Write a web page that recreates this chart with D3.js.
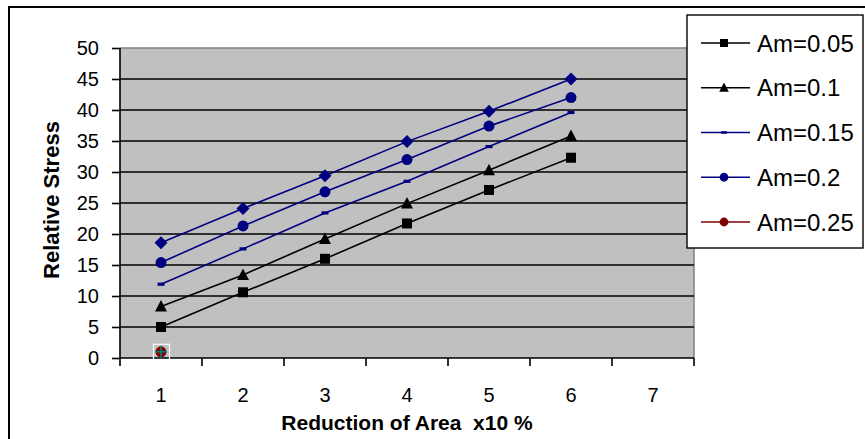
<!DOCTYPE html>
<html><head><meta charset="utf-8">
<script src="https://cdn.jsdelivr.net/npm/d3@7"></script>
<style>body{margin:0;background:#fff}svg{display:block}text{font-family:"Liberation Sans",Arial,sans-serif;fill:#000}</style>
</head><body><svg id="c" width="865" height="439"></svg>
<script>
const categories = [1, 2, 3, 4, 5, 6, 7];
const yTicks = [0, 5, 10, 15, 20, 25, 30, 35, 40, 45, 50];
const am005 = [5.0, 10.6, 16.0, 21.7, 27.1, 32.3];
const am01  = [8.3, 13.4, 19.2, 24.9, 30.3, 35.8];
const am015 = [11.9, 17.6, 23.4, 28.5, 34.1, 39.6];
const am02  = [15.4, 21.3, 26.8, 32.0, 37.4, 42.0];
const am03  = [18.6, 24.1, 29.4, 34.9, 39.8, 45.0];
const am025 = [1.0];
const seriesNames = ["Am=0.05", "Am=0.1", "Am=0.15", "Am=0.2", "Am=0.25"];

const series = [
  {name: seriesNames[0], values: am005, color: "#000000", marker: "square", legend: true},
  {name: seriesNames[1], values: am01, color: "#000000", marker: "triangle", legend: true},
  {name: seriesNames[2], values: am015, color: "#000080", marker: "dash", legend: true},
  {name: seriesNames[3], values: am02, color: "#000080", marker: "circle", legend: true},
  {name: seriesNames[4], values: am025, color: "#800000", marker: "circle", legend: true, highlight: true},
  {name: "Am=0.3", values: am03, color: "#000080", marker: "diamond", legend: false}
];

const svg = d3.select("#c");
const L = 120, R = 694, T = 48, B = 358;
const x = d3.scaleBand().domain(categories).range([L, R]);
const y = d3.scaleLinear().domain([0, 50]).range([B, T]);
const cx = v => x(v) + x.bandwidth() / 2;

// outer frame
svg.append("path").attr("d", `M9,445V7H870`).attr("fill", "none").attr("stroke", "#000").attr("stroke-width", 2);

// plot background
svg.append("rect").attr("x", L).attr("y", T).attr("width", R - L).attr("height", B - T).attr("fill", "#c0c0c0");
svg.append("path").attr("d", `M${L},${T}H${R}V${B}`).attr("fill", "none").attr("stroke", "#808080").attr("stroke-width", 1.5);

// gridlines
svg.append("g").selectAll("line").data(yTicks.filter(t => t > 0 && t < 50)).join("line")
  .attr("x1", L).attr("x2", R).attr("y1", d => y(d)).attr("y2", d => y(d))
  .attr("stroke", "#000").attr("stroke-width", 1.6);

// y axis
const yAxis = svg.append("g").attr("transform", `translate(${L},0)`)
  .call(d3.axisLeft(y).tickValues(yTicks).tickSize(8).tickPadding(13));
yAxis.select(".domain").attr("stroke", "#000").attr("stroke-width", 1.6).attr("d", `M0,${T}V${B}`);
yAxis.selectAll(".tick line").attr("stroke", "#000").attr("stroke-width", 1.6);
yAxis.selectAll(".tick text").attr("font-size", 20).attr("font-family", "Liberation Sans, Arial, sans-serif").attr("fill", "#000");

// x axis
const xAxis = svg.append("g").attr("transform", `translate(0,${B})`)
  .call(d3.axisBottom(x).tickSize(0).tickPadding(30));
xAxis.select(".domain").attr("stroke", "#000").attr("stroke-width", 1.6).attr("d", `M${L},0H${R}`);
xAxis.selectAll(".tick text").attr("font-size", 20).attr("font-family", "Liberation Sans, Arial, sans-serif").attr("fill", "#000");
const bounds = categories.map(c => x(c)).concat([R]);
xAxis.append("g").selectAll("line").data(bounds).join("line")
  .attr("x1", d => d).attr("x2", d => d).attr("y1", 0).attr("y2", 8)
  .attr("stroke", "#000").attr("stroke-width", 1.6);

// titles
svg.append("text").attr("x", 407).attr("y", 430).attr("text-anchor", "middle")
  .attr("font-size", 21).attr("font-weight", "bold").attr("xml:space", "preserve").text("Reduction of Area  x10 %");
svg.append("text").attr("transform", "translate(59,200) rotate(-90)").attr("text-anchor", "middle")
  .attr("font-size", 22).attr("font-weight", "bold").text("Relative Stress");

function drawMarker(g, type, px, py, color, s) {
  s = s || 1;
  if (type === "square") {
    g.append("rect").attr("x", px - 5 * s).attr("y", py - 5 * s).attr("width", 10 * s).attr("height", 10 * s).attr("fill", color);
  } else if (type === "triangle") {
    g.append("path").attr("d", `M${px},${py - 6.5 * s}L${px + 6 * s},${py + 5 * s}L${px - 6 * s},${py + 5 * s}Z`).attr("fill", color);
  } else if (type === "dash") {
    g.append("rect").attr("x", px - 3.5 * s).attr("y", py - 1.6 * s).attr("width", 7 * s).attr("height", 3.2 * s).attr("fill", color);
  } else if (type === "circle") {
    g.append("circle").attr("cx", px).attr("cy", py).attr("r", 5.5 * s).attr("fill", color);
  } else if (type === "diamond") {
    g.append("path").attr("d", `M${px},${py - 6.5 * s}L${px + 6.5 * s},${py}L${px},${py + 6.5 * s}L${px - 6.5 * s},${py}Z`).attr("fill", color);
  }
}

const line = d3.line().x((d, i) => cx(categories[i])).y(d => y(d));
const plot = svg.append("g");
series.forEach(s => {
  if (s.values.length > 1) {
    plot.append("path").attr("d", line(s.values)).attr("fill", "none").attr("stroke", s.color).attr("stroke-width", 1.6);
  }
});
series.forEach(s => {
  s.values.forEach((v, i) => {
    const px = cx(categories[i]), py = y(v);
    if (s.highlight) {
      plot.append("rect").attr("x", px - 7.5).attr("y", py - 7.5).attr("width", 16).attr("height", 16)
        .attr("fill", "none").attr("stroke", "#fff").attr("stroke-width", 1.2);
    }
    drawMarker(plot, s.marker, px, py, s.color);
    if (s.highlight) {
      plot.append("path").attr("d", `M${px - 6},${py}H${px + 6}M${px},${py - 6}V${py + 6}`)
        .attr("stroke", "#008080").attr("stroke-width", 1.6);
    }
  });
});

// legend
const lg = svg.append("g");
lg.append("rect").attr("x", 687).attr("y", 15).attr("width", 176).attr("height", 233)
  .attr("fill", "#fff").attr("stroke", "#000").attr("stroke-width", 1.4);
const legendItems = series.filter(s => s.legend);
const ly = d3.scalePoint().domain(legendItems.map(s => s.name)).range([43, 222]);
legendItems.forEach(s => {
  const yy = ly(s.name);
  lg.append("line").attr("x1", 701).attr("x2", 750).attr("y1", yy).attr("y2", yy).attr("stroke", s.color).attr("stroke-width", 1.6);
  drawMarker(lg, s.marker, 724, yy, s.color, 0.8);
  lg.append("text").attr("x", 757).attr("y", yy).attr("dy", "0.36em").attr("font-size", 24).text(s.name);
});
</script></body></html>
